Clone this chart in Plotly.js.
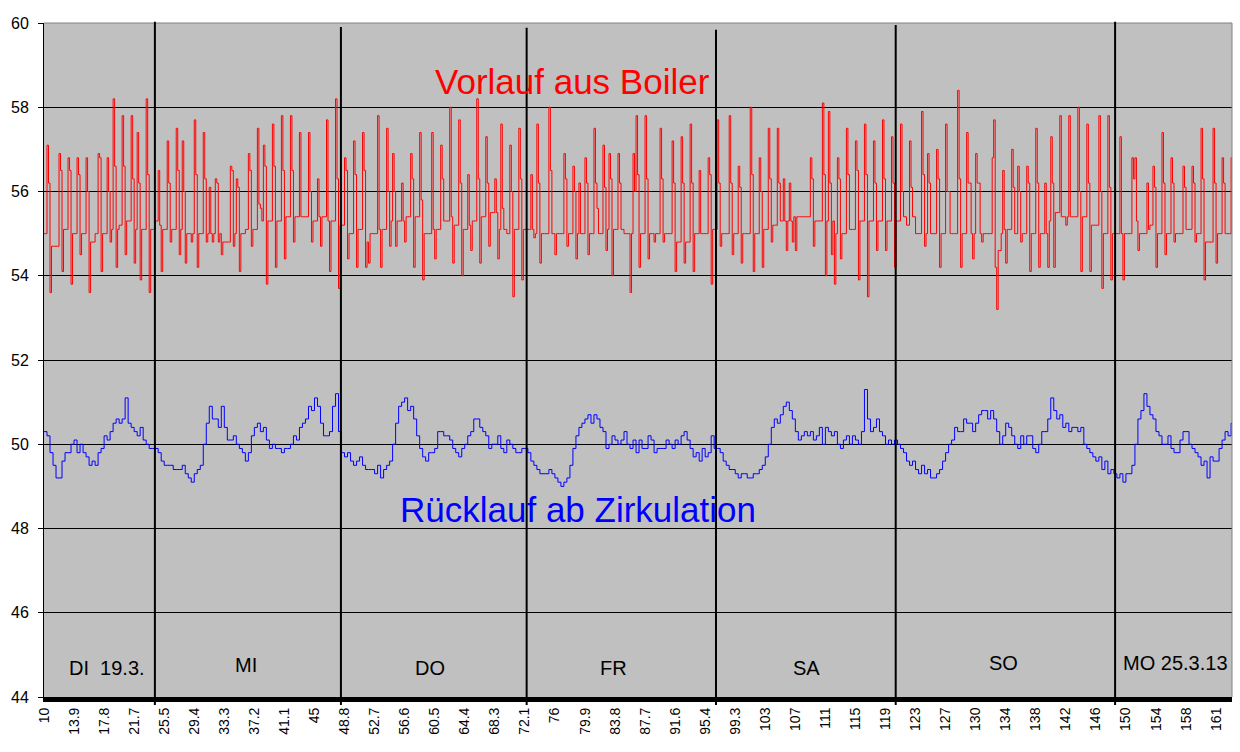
<!DOCTYPE html>
<html>
<head>
<meta charset="utf-8">
<script src="https://cdn.plot.ly/plotly-3.0.1.min.js"></script>
<style>
  body { margin: 0; background: #fff; }
  #chart { width: 1240px; height: 752px; }
</style>
</head>
<body>
<div id="chart"></div>
<script>
// category labels, one every 10 blue samples
var tickLabels = ['10','13.9','17.8','21.7','25.5','29.4','33.3','37.2','41.1','45',
  '48.8','52.7','56.6','60.5','64.4','68.3','72.1','76','79.9','83.8',
  '87.7','91.6','95.4','99.3','103','107','111','115','119','123',
  '127','130','134','138','142','146','150','154','158','161'];

var dayNames = ['DI\u00a0\u00a019.3.', 'MI', 'DO', 'FR', 'SA', 'SO', 'MO 25.3.13'];

// Vorlauf aus Boiler (read at 20 values per label step)
var vorlauf = [
  55.0,55.0,57.1,56.2,53.6,54.7,54.7,54.7,54.7,54.7,56.9,56.5,54.1,55.1,55.1,55.1,56.8,56.5,53.8,55.0,
  55.0,55.0,56.8,56.4,54.5,55.0,55.0,55.0,56.8,56.0,53.6,54.8,54.8,54.8,55.0,55.0,56.9,56.8,54.1,55.0,
  55.0,55.0,56.8,56.0,54.8,55.1,58.2,56.6,54.2,55.1,55.2,55.2,57.8,56.6,54.5,55.3,55.3,55.3,57.8,56.3,
  54.3,55.1,57.4,56.2,53.9,55.1,55.1,55.1,58.2,56.4,53.6,55.1,55.1,55.1,55.3,55.3,56.5,55.2,54.1,55.1,
  55.1,55.1,57.2,56.2,54.8,55.1,55.1,55.1,57.5,56.5,54.5,55.1,57.2,56.0,54.3,55.0,55.0,55.0,54.8,55.0,
  57.7,56.4,54.2,55.0,55.0,55.0,57.4,56.3,54.8,55.0,56.1,55.0,54.8,55.0,56.3,56.2,54.8,55.0,54.5,54.8,
  54.8,54.8,54.8,54.8,56.6,56.5,54.7,55.0,56.3,56.1,54.1,55.0,55.0,55.0,55.1,55.1,56.9,56.5,54.7,55.1,
  55.1,55.1,57.5,55.7,55.6,55.3,57.1,56.6,53.8,55.3,55.3,55.3,57.6,56.6,54.2,55.3,55.3,55.3,57.8,56.5,
  54.4,55.4,55.4,55.4,57.8,56.5,54.8,55.4,55.4,55.4,57.4,55.4,55.4,55.4,55.4,55.4,57.4,56.0,54.8,55.3,
  55.3,55.3,56.3,55.4,54.7,55.4,55.4,55.4,57.7,55.3,54.1,55.3,55.3,55.3,58.2,56.3,53.7,55.2,55.2,55.2,
  56.8,56.5,54.4,55.0,55.0,55.0,57.2,56.4,54.2,55.1,55.1,55.1,57.4,56.5,54.2,54.8,54.3,55.0,55.0,55.0,
  55.0,55.0,57.8,55.1,54.2,55.1,55.1,55.1,57.5,56.0,54.7,55.3,56.9,56.0,54.7,55.3,55.3,55.3,56.2,55.3,
  54.8,55.4,55.4,55.4,56.9,56.3,54.2,55.4,55.4,55.4,57.4,55.8,53.9,55.0,55.0,55.0,55.0,55.0,57.4,55.1,
  54.4,55.1,55.1,55.1,57.1,56.3,55.3,55.3,55.3,55.3,58.0,55.4,54.3,55.2,55.2,55.2,57.7,56.2,54.0,55.1,
  55.1,55.1,56.4,55.2,54.6,55.3,55.3,55.3,58.2,56.3,54.3,55.4,55.4,55.4,57.3,56.2,54.7,55.5,55.5,55.5,
  56.3,55.5,54.4,55.1,57.6,55.6,55.1,55.1,55.0,55.0,57.1,56.0,53.5,55.1,55.1,55.1,57.5,56.3,53.9,55.1,
  55.1,55.1,55.1,55.1,56.4,55.1,54.9,55.0,57.6,56.2,54.3,55.0,55.0,55.0,55.0,55.0,58.0,56.5,55.0,55.0,
  54.5,55.0,55.0,55.0,55.0,55.0,56.9,56.3,54.7,55.0,55.0,55.0,56.6,56.0,54.4,55.0,56.2,55.0,55.0,55.0,
  56.8,56.2,54.5,55.0,55.0,55.0,57.5,56.2,55.6,55.0,55.0,55.0,57.1,56.1,54.6,55.1,56.9,56.3,54.0,55.1,
  55.1,55.1,56.9,56.2,55.1,55.1,55.0,55.0,55.0,55.0,53.6,55.0,56.9,56.0,57.8,56.4,54.2,55.0,55.0,55.0,
  57.8,56.3,54.4,55.0,55.0,55.0,54.8,55.0,55.0,55.0,57.5,56.3,54.8,55.0,55.0,55.0,55.0,55.0,57.2,56.2,
  54.1,54.8,54.8,54.8,57.3,56.2,54.3,54.8,54.8,54.8,57.6,56.2,54.1,55.0,55.0,55.0,56.5,55.0,55.0,55.0,
  55.0,55.0,56.8,56.4,53.8,55.1,55.1,55.1,57.7,56.2,54.7,55.0,55.0,55.0,55.0,55.0,57.8,56.2,54.5,55.0,
  55.0,55.0,56.6,56.1,54.3,55.0,55.0,55.0,55.0,55.0,58.0,56.4,54.1,55.0,55.0,55.0,56.8,56.0,54.2,55.1,
  55.1,55.1,57.5,56.3,54.8,55.2,55.2,55.2,57.5,56.2,55.3,55.3,56.3,55.3,54.6,55.3,56.2,55.3,54.8,55.4,
  54.6,55.4,55.4,55.4,55.4,55.4,55.4,55.4,55.4,55.4,56.8,56.3,54.7,55.3,55.3,55.3,55.3,55.3,58.1,56.4,
  54.0,55.3,57.9,56.2,54.5,55.3,53.8,55.0,56.8,56.3,54.4,55.0,55.0,55.0,57.5,56.4,55.1,55.1,55.1,55.1,
  57.2,56.5,53.9,55.3,55.3,55.3,57.6,56.4,53.5,55.3,55.3,55.3,57.2,56.2,54.6,55.3,55.3,55.3,57.7,56.3,
  54.6,55.3,55.3,55.3,57.3,56.2,54.2,55.3,55.3,55.3,57.6,56.0,55.4,55.4,55.2,55.2,57.2,56.1,55.4,55.4,
  55.0,55.0,55.0,55.0,57.9,56.4,54.7,55.0,56.9,56.2,55.0,55.0,55.0,55.0,57.0,56.3,54.2,55.0,55.0,55.0,
  57.6,56.0,56.0,55.0,55.0,55.0,55.0,55.0,58.4,56.3,54.2,55.0,55.0,55.0,57.4,56.2,56.2,55.0,54.4,55.0,
  56.9,56.2,56.2,55.0,54.8,55.0,55.0,55.0,55.0,55.0,55.0,56.8,57.7,54.2,53.2,54.6,54.6,55.0,56.5,55.1,
  54.3,55.1,55.1,55.1,57.0,56.1,55.0,55.0,56.6,56.0,54.8,55.0,55.0,55.0,56.6,56.2,54.1,55.0,55.0,55.0,
  57.5,56.2,54.2,55.0,55.0,55.0,56.2,55.0,54.2,55.3,57.3,56.2,54.2,55.5,55.5,55.5,57.8,55.4,55.4,55.4,
  55.2,55.4,57.8,55.4,55.4,55.4,55.4,55.4,58.0,56.0,54.1,55.4,55.4,55.4,57.6,56.2,54.1,55.2,55.2,55.2,
  55.2,55.2,57.8,56.0,53.7,55.0,55.0,55.0,57.8,56.1,53.9,55.0,55.0,55.0,55.0,55.0,57.3,55.0,53.9,55.0,
  55.0,55.0,55.0,55.0,56.8,56.3,56.8,55.3,54.6,55.0,55.0,55.0,55.0,55.0,56.2,55.1,55.2,55.2,56.6,56.1,
  54.2,55.0,55.0,55.0,57.4,56.2,54.5,55.0,55.0,55.0,56.8,56.2,54.8,55.0,55.0,55.0,55.0,55.0,56.6,56.1,
  55.1,55.1,55.1,55.1,56.6,56.2,54.8,55.0,55.0,55.0,57.5,56.3,53.9,54.8,54.8,54.8,54.8,54.8,57.5,56.2,
  54.3,55.0,55.0,55.0,56.8,56.2,55.0,55.0,55.0,55.0,56.8,56.3,55.5,55.5
];

// Ruecklauf ab Zirkulation (read at 10 values per label step)
var ruecklauf = [
  50.3,50.2,49.8,49.5,49.2,49.2,49.6,49.8,49.8,50.0,
  50.1,49.8,50.0,49.8,49.7,49.5,49.6,49.5,49.8,49.9,
  50.2,50.1,50.3,50.5,50.6,50.5,50.6,51.1,50.5,50.4,
  50.3,50.2,50.4,50.1,50.0,49.9,49.9,49.9,49.8,49.6,
  49.5,49.5,49.5,49.4,49.4,49.4,49.5,49.3,49.2,49.1,
  49.3,49.4,49.5,50.0,50.5,50.9,50.6,50.6,50.4,50.9,
  50.4,50.1,50.1,50.2,50.0,49.9,49.8,49.6,49.8,50.2,
  50.4,50.5,50.3,50.4,50.1,49.9,50.0,49.9,49.9,49.8,
  49.9,49.9,50.0,50.2,50.1,50.4,50.5,50.6,50.9,50.8,
  51.1,50.9,50.5,50.2,50.2,50.3,50.9,51.2,50.3,49.8,
  49.7,49.8,49.6,49.5,49.6,49.7,49.5,49.4,49.4,49.4,
  49.3,49.5,49.2,49.4,49.5,49.6,50.0,50.5,50.9,51.0,
  51.1,50.8,50.9,50.6,50.2,49.9,49.7,49.6,49.8,49.8,
  49.9,50.3,50.3,50.2,50.2,50.1,49.9,49.8,49.7,49.9,
  50.0,50.2,50.3,50.6,50.6,50.4,50.3,50.2,49.9,50.0,
  50.0,50.2,49.9,49.8,50.1,50.0,49.9,49.8,49.8,49.9,
  49.9,49.8,49.6,49.5,49.4,49.3,49.3,49.3,49.4,49.3,
  49.2,49.1,49.0,49.1,49.2,49.5,49.9,50.2,50.4,50.5,
  50.6,50.7,50.5,50.7,50.6,50.4,50.3,49.9,50.0,50.2,
  50.1,50.0,50.1,50.3,50.0,49.9,50.1,49.8,50.1,49.9,
  49.9,50.2,50.1,49.8,49.9,49.9,49.9,50.1,50.0,49.9,
  50.1,50.0,50.2,50.3,50.1,49.9,49.7,49.8,49.6,49.9,
  49.7,49.8,50.2,49.9,49.9,49.8,49.6,49.5,49.4,49.4,
  49.3,49.2,49.3,49.3,49.2,49.2,49.3,49.3,49.4,49.5,
  49.7,50.0,50.4,50.6,50.5,50.7,50.9,51.0,50.8,50.6,
  50.3,50.1,50.2,50.3,50.2,50.3,50.1,50.2,50.4,50.0,
  50.4,50.3,50.2,50.3,50.0,49.9,50.1,50.2,50.0,50.2,
  50.1,50.0,50.3,51.3,50.6,50.3,50.4,50.6,50.3,50.2,
  50.0,50.1,50.0,50.1,50.0,49.9,49.8,49.6,49.5,49.6,
  49.4,49.3,49.5,49.3,49.4,49.2,49.2,49.3,49.4,49.6,
  49.8,50.0,50.1,50.4,50.3,50.3,50.6,50.5,50.5,50.3,
  50.5,50.7,50.8,50.8,50.6,50.8,50.6,50.3,50.0,50.2,
  50.5,50.4,50.2,50.0,49.9,50.2,50.0,50.2,50.2,49.9,
  49.8,50.0,50.3,50.3,50.6,51.1,50.8,50.6,50.7,50.4,
  50.5,50.3,50.4,50.4,50.3,50.4,50.0,49.9,49.8,49.7,
  49.6,49.7,49.4,49.6,49.3,49.4,49.3,49.2,49.3,49.1,
  49.3,49.3,49.5,50.0,50.6,50.8,51.2,50.9,50.7,50.6,
  50.3,50.2,50.0,50.0,50.2,49.9,49.8,49.8,50.1,50.3,
  50.3,50.0,49.9,49.8,49.7,49.5,49.6,49.2,49.7,49.6,
  49.6,49.9,50.1,50.3,50.2,50.5,50.6
];

var LABEL_EVERY = 10;      // axis units between two tick labels
var RED_PER_LABEL = 20;
var BLUE_PER_LABEL = 10;
var FONT = 'Arial, "Liberation Sans", sans-serif';

var xRed = vorlauf.map(function (v, i) { return i * LABEL_EVERY / RED_PER_LABEL; });
var xBlue = ruecklauf.map(function (v, i) { return i * LABEL_EVERY / BLUE_PER_LABEL; });
var tickVals = tickLabels.map(function (t, k) { return k * LABEL_EVERY; });

// hand drawn day separators and day captions (axis units / paper)
var dividerX = [36.9, 98.8, 160.6, 223.6, 283.4, 356.4];
var dividerTop = [1.002, 0.994, 0.993, 0.990, 0.997, 1.002];
var dayLabelX = [21.1, 67.2, 128.4, 189.5, 253.6, 319.1, 376.4];
var dayLabelY = [44.70, 44.75, 44.70, 44.70, 44.70, 44.80, 44.80];

var trace1 = {
  type: 'scatter',
  x: xRed,
  y: vorlauf,
  mode: 'lines',
  name: 'Vorlauf aus Boiler',
  line: { color: '#ff0000', width: 1, shape: 'hv' },
  hoverinfo: 'y'
};

var trace2 = {
  type: 'scatter',
  x: xBlue,
  y: ruecklauf,
  mode: 'lines',
  name: 'Rücklauf ab Zirkulation',
  line: { color: '#0000ff', width: 1, shape: 'hv' },
  hoverinfo: 'y'
};

// plot area frame (top and right)
var shapes = [
  { type: 'line', xref: 'paper', yref: 'paper', x0: 0, x1: 1, y0: 1, y1: 1,
    line: { color: '#808080', width: 1 } },
  { type: 'line', xref: 'paper', yref: 'paper', x0: 1, x1: 1, y0: 0, y1: 1,
    line: { color: '#808080', width: 1 } }
];
dividerX.forEach(function (d, k) {
  shapes.push({
    type: 'line', xref: 'x', yref: 'paper',
    x0: d, x1: d, y0: -0.012, y1: dividerTop[k],
    line: { color: '#000', width: 2 }
  });
});

var annotations = dayNames.map(function (n, k) {
  return {
    text: n, x: dayLabelX[k], y: dayLabelY[k], xref: 'x', yref: 'y',
    showarrow: false, font: { family: FONT, size: 20, color: '#000' }
  };
});
annotations.push({
  text: 'Vorlauf aus Boiler', x: 176.0, y: 58.6, xref: 'x', yref: 'y',
  showarrow: false, font: { family: FONT, size: 35, color: '#ff0000' }
});
annotations.push({
  text: 'Rücklauf ab Zirkulation', x: 177.7, y: 48.46, xref: 'x', yref: 'y',
  showarrow: false, font: { family: FONT, size: 35, color: '#0000ff' }
});

var layout = {
  width: 1240,
  height: 752,
  margin: { l: 44, r: 8, t: 23, b: 55 },
  paper_bgcolor: '#ffffff',
  plot_bgcolor: '#c0c0c0',
  showlegend: false,
  font: { family: FONT, color: '#000' },
  xaxis: {
    range: [0, 395.3],
    tickmode: 'array',
    tickvals: tickVals,
    ticktext: tickLabels,
    tickangle: -90,
    tickfont: { family: FONT, size: 14, color: '#000' },
    showgrid: false,
    zeroline: false,
    showline: true,
    linecolor: '#000',
    linewidth: 5,
    ticks: ''
  },
  yaxis: {
    range: [44, 60],
    dtick: 2,
    tick0: 44,
    tickfont: { family: FONT, size: 16, color: '#000' },
    ticklabelstandoff: 6,
    showgrid: true,
    gridcolor: '#000',
    gridwidth: 1,
    zeroline: false,
    showline: true,
    linecolor: '#000',
    linewidth: 1,
    ticks: 'outside',
    ticklen: 5,
    tickcolor: '#000'
  },
  shapes: shapes,
  annotations: annotations
};

Plotly.newPlot('chart', [trace1, trace2], layout, { displayModeBar: false, responsive: false });
</script>
</body>
</html>
